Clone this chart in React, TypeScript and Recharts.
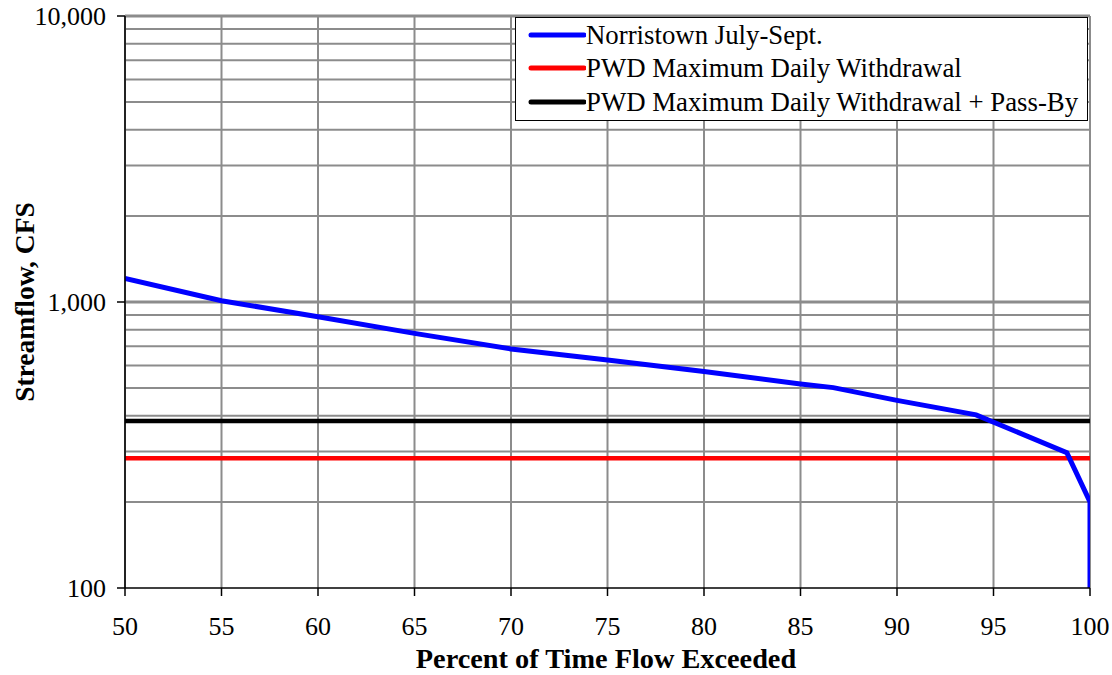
import React from 'react';
import { LineChart, Line, XAxis, YAxis, CartesianGrid } from 'recharts';

const percentTicks = [50, 55, 60, 65, 70, 75, 80, 85, 90, 95, 100];
const flowTicks = [100, 1000, 10000];
const minorGrid = [200, 300, 400, 500, 600, 700, 800, 900, 2000, 3000, 4000, 5000, 6000, 7000, 8000, 9000];
const decadeGrid = [1000, 10000];

const norristownPct = [50, 55, 60, 65, 70, 75, 80, 85, 86.7, 90, 94.1, 98.8, 100, 100];
const norristownFlow = [1210, 1010, 888, 777, 685, 627, 571, 517, 502, 453, 403, 297, 200, 100];
const withdrawalPct = [50, 100];
const withdrawalFlow = [284, 284];
const passByFlow = [384, 384];

const blueData = norristownPct.map((p, i) => ({ p, v: norristownFlow[i] }));
const redData = withdrawalPct.map((p, i) => ({ p, v: withdrawalFlow[i] }));
const blackData = withdrawalPct.map((p, i) => ({ p, v: passByFlow[i] }));

const legendItems = [
  { label: 'Norristown July-Sept.', color: '#0000ff' },
  { label: 'PWD Maximum Daily Withdrawal', color: '#ff0000' },
  { label: 'PWD Maximum Daily Withdrawal + Pass-By', color: '#000000' },
];

const FONT = '"Liberation Serif", "Times New Roman", serif';
const fmt = (v: number) => v.toLocaleString('en-US');

export default function App() {
  return (
    <div
      style={{
        position: 'relative',
        width: 1112,
        height: 675,
        overflow: 'hidden',
        background: '#fff',
        fontFamily: FONT,
      }}
    >
      <style>{'html, body { margin: 0; padding: 0; overflow: hidden; }'}</style>
      <LineChart width={1112} height={675} margin={{ top: 16, right: 22, bottom: 27, left: 0 }} style={{ fontFamily: FONT }}>
        <CartesianGrid
          stroke="#8c8c8c"
          strokeWidth={2}
          horizontalValues={minorGrid}
          verticalValues={percentTicks}
        />
        <CartesianGrid stroke="#8c8c8c" strokeWidth={3} horizontalValues={decadeGrid} vertical={false} />
        <XAxis
          type="number"
          dataKey="p"
          domain={[50, 100]}
          ticks={percentTicks}
          interval={0}
          height={60}
          tickSize={8}
          tickMargin={21}
          stroke="#000"
          strokeWidth={1.5}
          tick={{ fill: '#000', fontSize: 26, fontFamily: FONT }}
          allowDataOverflow
        />
        <YAxis
          type="number"
          dataKey="v"
          scale="log"
          domain={[100, 10000]}
          ticks={flowTicks}
          interval={0}
          width={125}
          tickSize={8}
          tickMargin={11}
          tickFormatter={fmt}
          stroke="#000"
          strokeWidth={1.5}
          tick={{ fill: '#000', fontSize: 26, fontFamily: FONT }}
          allowDataOverflow
        />
        <Line data={redData} dataKey="v" stroke="#ff0000" strokeWidth={4.5} dot={false} isAnimationActive={false} />
        <Line data={blackData} dataKey="v" stroke="#000000" strokeWidth={4.5} dot={false} isAnimationActive={false} />
        <Line data={blueData} dataKey="v" stroke="#0000ff" strokeWidth={5} dot={false} isAnimationActive={false} strokeLinejoin="miter" />
      </LineChart>
      <div
        style={{
          position: 'absolute',
          left: 515,
          top: 17,
          width: 573,
          height: 104,
          boxSizing: 'border-box',
          border: '1.5px solid #000',
          background: '#fff',
          paddingTop: 0,
        }}
      >
        {legendItems.map((it) => (
          <div key={it.label} style={{ display: 'flex', alignItems: 'center', height: 33.5 }}>
            <svg width={70} height={12} style={{ flex: 'none' }}>
              <line x1={15} y1={6} x2={68} y2={6} stroke={it.color} strokeWidth={5} strokeLinecap="round" />
            </svg>
            <span style={{ fontSize: 26.8, lineHeight: '30px', color: '#000', whiteSpace: 'nowrap' }}>{it.label}</span>
          </div>
        ))}
      </div>
      <div
        style={{
          position: 'absolute',
          left: 25,
          top: 302,
          transform: 'translate(-50%, -50%) rotate(-90deg)',
          fontSize: 27.5,
          fontWeight: 'bold',
          whiteSpace: 'nowrap',
          color: '#000',
        }}
      >
        Streamflow, CFS
      </div>
      <div
        style={{
          position: 'absolute',
          left: 606,
          top: 659,
          transform: 'translate(-50%, -50%)',
          fontSize: 28.3,
          lineHeight: '30px',
          fontWeight: 'bold',
          whiteSpace: 'nowrap',
          color: '#000',
        }}
      >
        Percent of Time Flow Exceeded
      </div>
    </div>
  );
}
